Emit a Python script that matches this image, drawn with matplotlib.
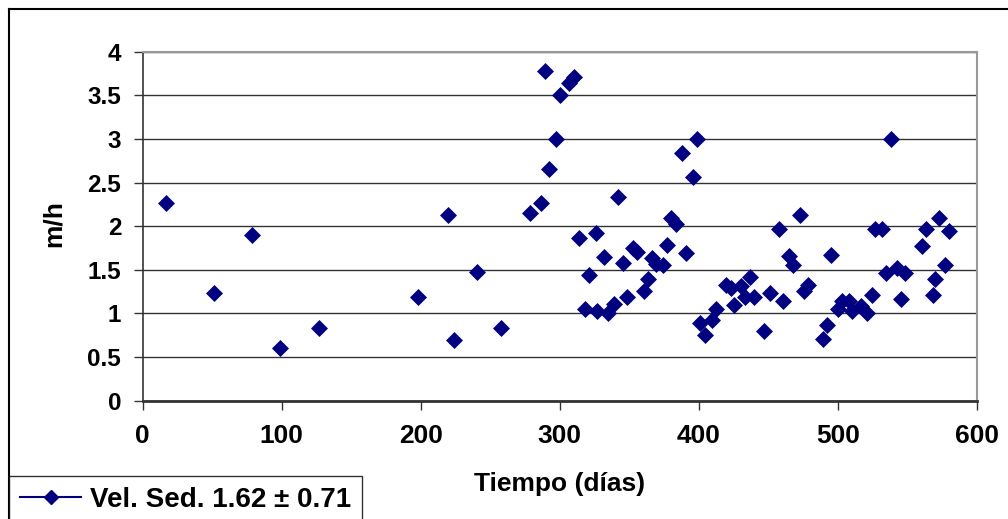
import matplotlib
matplotlib.use("Agg")
import matplotlib.pyplot as plt
from matplotlib.lines import Line2D

days = [16.5, 51.3, 78.6, 98.5, 127, 198.3, 219.6, 224.2, 240.7, 257.5,
        278.6, 286.3, 289.4, 292.5, 297, 300, 306.9, 310.5, 313.7, 318,
        321.1, 325.9, 327, 331.9, 334.8, 339.3, 342.2, 345.5, 348.2, 353,
        355.8, 360.4, 363.8, 366.6, 369.3, 374.5, 377.2, 379.9, 383.5, 387.8,
        390.9, 395.7, 398.6, 400.9, 404.5, 409.4, 412.2, 419.6, 423, 425.6,
        430.2, 433.5, 436.7, 440, 446.8, 451.3, 457.8, 460.6, 465, 468,
        472.7, 475.8, 478.9, 489.2, 492.3, 495.4, 500, 503.3, 508.3, 510.5,
        516.8, 520.9, 524.5, 527, 531.9, 534.7, 538.1, 542.4, 545.5, 548.6,
        560.6, 563.7, 568.3, 569.8, 572.7, 577.4, 580.3]
vel = [2.27, 1.24, 1.90, 0.60, 0.83, 1.19, 2.13, 0.69, 1.47, 0.83,
       2.15, 2.27, 3.78, 2.66, 3.00, 3.50, 3.64, 3.71, 1.86, 1.05,
       1.44, 1.92, 1.03, 1.65, 1.00, 1.11, 2.33, 1.58, 1.19, 1.75,
       1.70, 1.26, 1.39, 1.64, 1.57, 1.56, 1.78, 2.09, 2.03, 2.84,
       1.69, 2.56, 3.00, 0.89, 0.75, 0.92, 1.05, 1.33, 1.29, 1.10,
       1.32, 1.19, 1.42, 1.19, 0.80, 1.24, 1.97, 1.14, 1.66, 1.56,
       2.13, 1.26, 1.33, 0.71, 0.87, 1.67, 1.05, 1.14, 1.14, 1.03,
       1.08, 1.00, 1.21, 1.97, 1.97, 1.46, 3.00, 1.52, 1.17, 1.46,
       1.77, 1.97, 1.21, 1.39, 2.09, 1.56, 1.94]

x_ticks = [0, 100, 200, 300, 400, 500, 600]
y_ticks = [0, 0.5, 1, 1.5, 2, 2.5, 3, 3.5, 4]
y_tick_labels = ["0", "0.5", "1", "1.5", "2", "2.5", "3", "3.5", "4"]
legend_label = "Vel. Sed. 1.62 ± 0.71"
x_label = "Tiempo (días)"
y_label = "m/h"

color = "#000080"
plt.rcParams['font.family'] = ['Liberation Sans', 'DejaVu Sans']

W, H = 1008, 519
fig = plt.figure(figsize=(W / 100, H / 100), dpi=100)
ax = fig.add_axes([142.7 / W, 1 - 400.7 / H, (976.7 - 142.7) / W, (400.7 - 51.7) / H])

ax.scatter(days, vel, marker="D", s=75, color=color, zorder=3, linewidths=0)

ax.set_xlim(0, 600)
ax.set_ylim(0, 4)
ax.set_xticks(x_ticks)
ax.set_yticks(y_ticks)
ax.set_yticklabels(y_tick_labels)
ax.grid(axis="y", color="#333333", linewidth=1.0)
ax.set_axisbelow(True)
ax.tick_params(axis="both", direction="out", length=6.5, width=1, color="#333333")
ax.tick_params(axis="x", labelsize=19, pad=10)
ax.tick_params(axis="y", labelsize=17.5, pad=9)
for lab in ax.get_xticklabels() + ax.get_yticklabels():
    lab.set_fontweight("bold")

ax.spines["left"].set_color("#333333")
ax.spines["bottom"].set_color("#333333")
ax.spines["bottom"].set_linewidth(2)
ax.spines["left"].set_linewidth(1.2)
ax.spines["top"].set_color("#999999")
ax.spines["right"].set_color("#999999")
ax.spines["top"].set_linewidth(1.5)
ax.spines["right"].set_linewidth(1.5)

ax.set_xlabel(x_label, fontsize=19, fontweight="bold")
ax.xaxis.label.set_va("center")
ax.xaxis.set_label_coords(0.5, (400.7 - 484) / 349)
ax.set_ylabel(y_label, fontsize=19, fontweight="bold")
ax.yaxis.label.set_va("center")
ax.yaxis.set_label_coords((54 - 142.7) / 834, (400.7 - 224) / 349)

# outer chart frame (top and left edges visible)
fig.add_artist(Line2D([9 / W, 1.0], [1 - 9 / H, 1 - 9 / H], transform=fig.transFigure,
                      color="black", linewidth=1.5))
fig.add_artist(Line2D([9 / W, 9 / W], [1 - 9 / H, 0], transform=fig.transFigure,
                      color="black", linewidth=1.5))

handle = Line2D([], [], color=color, marker="D", markersize=7, linewidth=1.5)
leg = fig.legend([handle], [legend_label], loc="upper left",
                 bbox_to_anchor=(9 / W, 1 - 476 / H), frameon=True, fancybox=False,
                 prop={"size": 20, "weight": "bold"}, handlelength=2.2,
                 handletextpad=0.3, borderpad=0.4, borderaxespad=0)
leg.get_frame().set_edgecolor("black")
leg.get_frame().set_linewidth(1.0)

fig.savefig("out.png", dpi=100)
